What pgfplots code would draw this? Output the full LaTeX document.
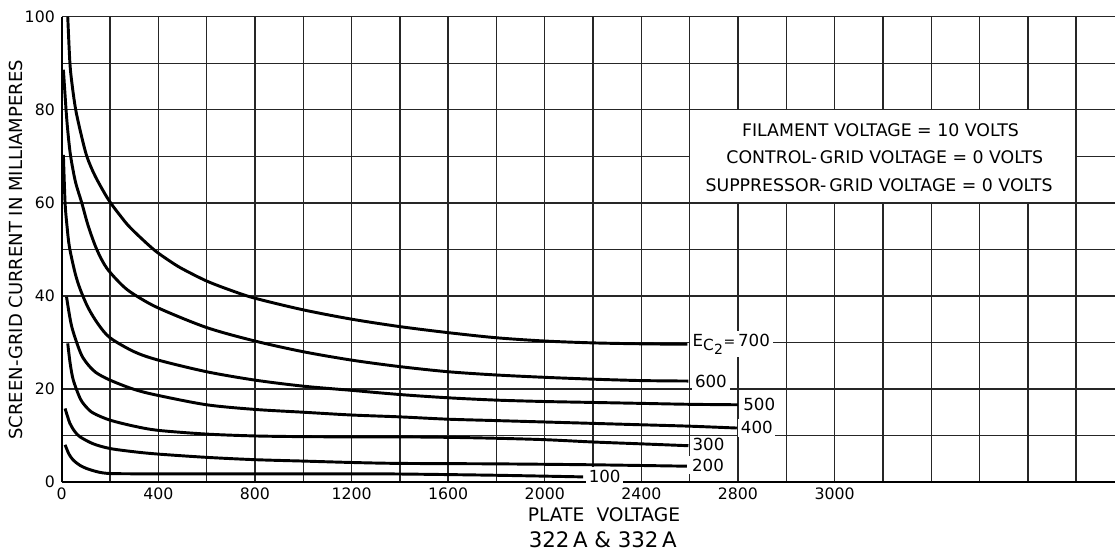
\documentclass[border=0pt]{standalone}
\usepackage{fontspec}
\setmainfont{DejaVu Sans}
\usepackage{pgfplots}
\pgfplotsset{compat=1.18}
\newcommand{\fs}[1]{\fontsize{#1}{#1}\selectfont}
\begin{document}
\begin{tikzpicture}
\begin{axis}[
  scale only axis,
  width=790pt, height=349pt,
  xmin=0, xmax=4361, ymin=0, ymax=100,
  axis lines=left,
  axis line style={-, line width=1.5pt},
  xtick={0,200,...,4200},
  xticklabels={0,,400,,800,,1200,,1600,,2000,,2400,,2800,,3000,,,,,,},
  ytick={0,10,...,100},
  yticklabels={0,,20,,40,,60,,80,,100},
  major tick length=0pt,
  grid=major,
  major grid style={black!85, line width=1.05pt},
  /pgf/number format/assume math mode=true,
  tick label style={font=\fs{11.8}},
  xticklabel style={anchor=center, yshift=-9pt, inner sep=0pt},
  yticklabel style={anchor=east, xshift=-5pt, inner sep=0pt},
  clip=false,
  crv/.style={black, solid, no markers, line width=2.2pt, smooth, tension=0.5},
]
% E_C2 = 700
\addplot[crv] coordinates {
 (25,100) (34,90) (44,85) (58,80) (79,75) (104,70) (138,65.8) (192,60.8) (240,57.4)
 (285,54.6) (380,50.0) (450,47.4) (500,45.8) (600,43.2) (700,41.2) (800,39.5)
 (1000,37.0) (1200,35.0) (1400,33.4) (1600,32.1) (1800,31.0) (2000,30.3) (2200,29.9)
 (2400,29.7) (2590,29.6)};
% 600
\addplot[crv] coordinates {
 (7,88.6) (18,80) (26,75) (37,70) (57,64.5) (83,60) (110,55) (145,50) (186,46.0)
 (250,42.3) (300,40.3) (400,37.4) (600,33.2) (800,30.3) (1000,28.0) (1200,26.2)
 (1400,24.8) (1600,23.7) (1800,23.0) (2000,22.5) (2200,22.1) (2400,21.8) (2595,21.7)};
% 500
\addplot[crv] coordinates {
 (7,70.3) (14,60) (22,55) (32,50.5) (55,45.0) (76,41.5) (109,37.5) (150,34.0)
 (200,31.0) (300,28.0) (400,26.2) (600,23.7) (800,21.9) (1000,20.6) (1200,19.7)
 (1400,18.8) (1600,18.1) (1800,17.6) (2000,17.3) (2200,17.1) (2400,16.9) (2600,16.7) (2800,16.6)};
% 400
\addplot[crv] coordinates {
 (20,39.8) (41,33.5) (76,28.0) (100,25.8) (140,23.6) (200,21.9) (300,19.9) (400,18.6)
 (600,16.6) (800,15.6) (1000,15.0) (1200,14.4) (1400,14.0) (1600,13.5) (1800,13.2)
 (2000,12.9) (2200,12.6) (2400,12.3) (2600,12.0) (2795,11.6)};
% 300
\addplot[crv] coordinates {
 (25,29.8) (35,25.5) (48,21.9) (76,18.0) (100,16.2) (131,14.8) (200,13.3) (300,12.0)
 (400,11.1) (600,10.3) (800,9.9) (1000,9.75) (1200,9.7) (1400,9.7) (1600,9.6)
 (1800,9.4) (2000,9.1) (2200,8.6) (2400,8.2) (2595,7.8)};
% 200
\addplot[crv] coordinates {
 (14,15.8) (34,12.6) (55,10.8) (76,9.7) (131,8.2) (200,7.2) (300,6.5) (400,6.0)
 (600,5.3) (800,4.8) (1000,4.5) (1200,4.2) (1400,4.0) (1800,3.9) (2200,3.7) (2588,3.4)};
% 100
\addplot[crv] coordinates {
 (14,8.0) (30,6.0) (48,4.7) (75,3.6) (103,2.9) (140,2.3) (172,1.95) (220,1.8)
 (400,1.75) (800,1.75) (1200,1.75) (1400,1.72) (1800,1.45) (2159,1.1)};
% curve labels
\tikzset{lbl/.style={fill=white, inner sep=2pt, anchor=west, font=\fs{12.5}}}
\node[lbl] at (axis cs:2600,29.6) {E\raisebox{-0.45ex}{\fs{11.5}C\kern0.3pt\raisebox{-0.45ex}{\fs{10.5}2}}\kern0.3pt{\fs{10.5}=}\,700};
\node[lbl] at (axis cs:2610,21.6) {600};
\node[lbl] at (axis cs:2810,16.6) {500};
\node[lbl] at (axis cs:2800,11.7) {400};
\node[lbl] at (axis cs:2600,8.0) {300};
\node[lbl] at (axis cs:2598,3.6) {200};
\node[lbl] at (axis cs:2170,1.3) {100};
% annotation box
\draw[black!85, line width=1.05pt, fill=white] (axis cs:2600,60) rectangle (axis cs:4200,80);
\node[font=\fs{13}] at (axis cs:3390,75.7) {FILAMENT VOLTAGE = 10 VOLTS};
\node[font=\fs{13}] at (axis cs:3408,69.7) {CONTROL-\,GRID VOLTAGE = 0 VOLTS};
\node[font=\fs{13}] at (axis cs:3384,63.7) {SUPPRESSOR-\,GRID VOLTAGE = 0 VOLTS};
% axis titles
\node[rotate=90, font=\fs{13.5}] at (axis cs:-190,49.9) {SCREEN-GRID CURRENT IN MILLIAMPERES};
\node[font=\fs{14}] at (axis cs:2245,-7.1) {PLATE\,\, VOLTAGE};
\node[font=\fs{16}] at (axis cs:2240,-12.5) {322\,A \& 332\,A};
\coordinate (BL) at (axis cs:-255.5,-15.04);
\coordinate (TR) at (axis cs:4361,103.59);
\end{axis}
\pgfresetboundingbox
\useasboundingbox (BL) rectangle (TR);
\end{tikzpicture}
\end{document}
